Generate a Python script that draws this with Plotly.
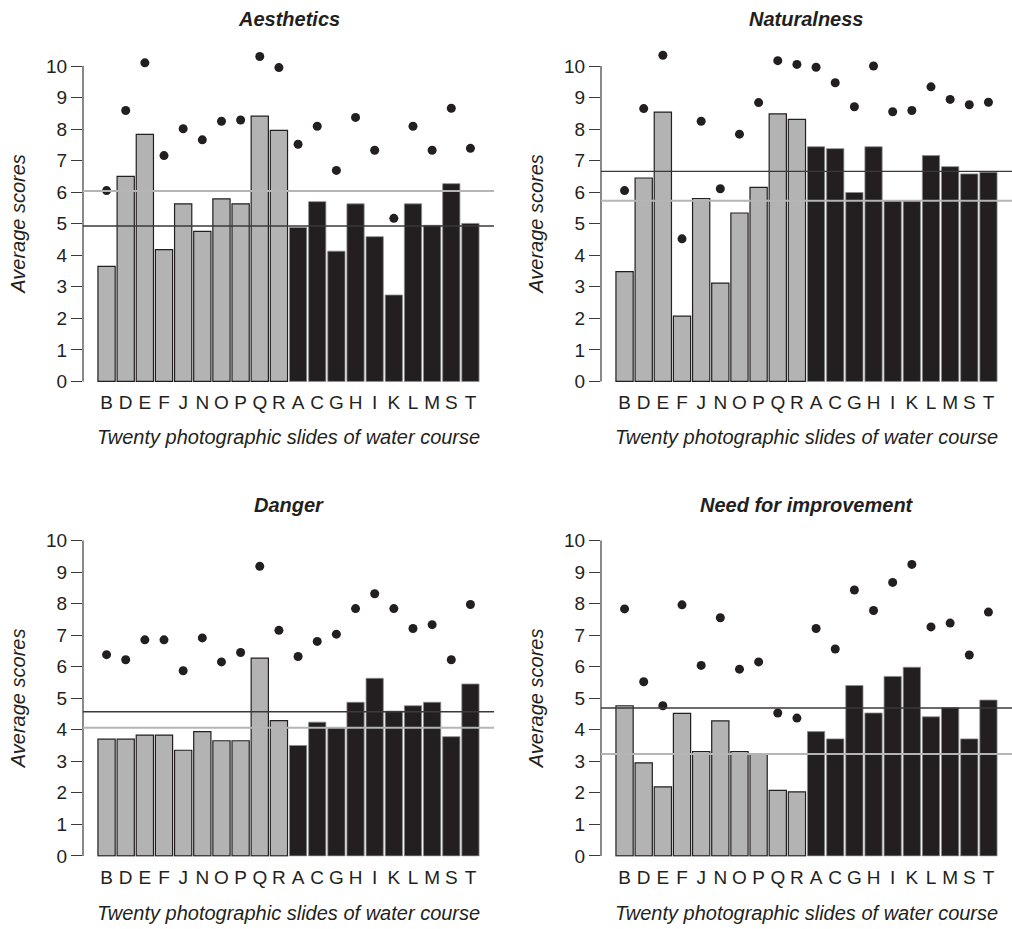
import plotly.graph_objects as go

W, H = 1012, 929

slides = ["B", "D", "E", "F", "J", "N", "O", "P", "Q", "R",
          "A", "C", "G", "H", "I", "K", "L", "M", "S", "T"]
n_gray = 10  # first ten slides drawn in grey, last ten in black

panel_titles = ["Aesthetics", "Naturalness", "Danger", "Need for improvement"]

# bar heights (average scores)
aesthetics_bars = [3.65, 6.50, 7.83, 4.18, 5.63, 4.76, 5.79, 5.63, 8.41, 7.96,
                   4.88, 5.70, 4.13, 5.63, 4.59, 2.74, 5.63, 4.95, 6.27, 5.01]
naturalness_bars = [3.48, 6.45, 8.54, 2.07, 5.80, 3.12, 5.34, 6.15, 8.48, 8.31,
                    7.44, 7.38, 5.99, 7.44, 5.73, 5.73, 7.16, 6.81, 6.58, 6.63]
danger_bars = [3.70, 3.70, 3.83, 3.83, 3.35, 3.94, 3.65, 3.65, 6.27, 4.29,
               3.50, 4.24, 4.07, 4.87, 5.63, 4.59, 4.76, 4.87, 3.78, 5.45]
improvement_bars = [4.76, 2.95, 2.19, 4.52, 3.31, 4.28, 3.31, 3.23, 2.08, 2.03,
                    3.94, 3.71, 5.40, 4.53, 5.69, 5.98, 4.41, 4.70, 3.71, 4.94]

# dot values
aesthetics_dots = [6.05, 8.59, 10.10, 7.16, 8.01, 7.66, 8.25, 8.29, 10.30, 9.95,
                   7.52, 8.09, 6.69, 8.37, 7.33, 5.17, 8.09, 7.33, 8.66, 7.39]
naturalness_dots = [6.05, 8.65, 10.34, 4.52, 8.25, 6.11, 7.84, 8.84, 10.17, 10.05,
                    9.96, 9.47, 8.71, 10.00, 8.55, 8.59, 9.34, 8.94, 8.77, 8.85]
danger_dots = [6.38, 6.22, 6.85, 6.85, 5.87, 6.91, 6.15, 6.45, 9.18, 7.15,
               6.32, 6.80, 7.03, 7.84, 8.31, 7.84, 7.21, 7.33, 6.22, 7.97]
improvement_dots = [7.83, 5.52, 4.76, 7.96, 6.04, 7.55, 5.92, 6.15, 4.53, 4.37,
                    7.21, 6.56, 8.43, 7.78, 8.67, 9.24, 7.26, 7.38, 6.37, 7.73]

# horizontal reference lines (grey group mean, black group mean)
gray_line = [6.04, 5.73, 4.06, 3.23]
black_line = [4.93, 6.66, 4.57, 4.69]

y_ticks = list(range(0, 11))

bars = [aesthetics_bars, naturalness_bars, danger_bars, improvement_bars]
dots = [aesthetics_dots, naturalness_dots, danger_dots, improvement_dots]

GRAY = "#b3b3b3"
DARK = "#231f20"
FONT = "Liberation Sans, Arial, sans-serif"

KY = 1.011  # vertical compensation for the capture


def px(x):
    return x / W


def py(y):
    return 1 - (y * KY) / H


# panel geometry in pixels
x_pix = [(83, 494), (601, 1012), (83, 494), (601, 1012)]
y0_pix = [381.4, 381.4, 855.8, 855.8]
title_y = [19, 19, 505, 505]
xtitle_y = [437, 437, 913, 913]
unit = 31.54
y_min, y_max = -0.03, 10.6

fig = go.Figure()
layout = dict(
    width=W, height=H, margin=dict(l=0, r=0, t=0, b=0),
    paper_bgcolor="white", plot_bgcolor="white", showlegend=False,
    bargap=0.1, font=dict(family=FONT, color=DARK),
)
shapes = []
annotations = []

for i in range(4):
    sfx = "" if i == 0 else str(i + 1)
    xa, ya = "x" + sfx, "y" + sfx
    xl, xr = x_pix[i]
    y0 = y0_pix[i]
    top = y0 - (y_max - 0) * unit
    bot = y0 + (0 - y_min) * unit

    fig.add_trace(go.Bar(
        x=slides[:n_gray], y=bars[i][:n_gray], xaxis=xa, yaxis=ya,
        marker=dict(color=GRAY, line=dict(color=DARK, width=1.2)),
    ))
    fig.add_trace(go.Bar(
        x=slides[n_gray:], y=bars[i][n_gray:], xaxis=xa, yaxis=ya,
        marker=dict(color=DARK, line=dict(color="#8a8a8a", width=0.8)),
    ))
    fig.add_trace(go.Scatter(
        x=slides, y=dots[i], xaxis=xa, yaxis=ya, mode="markers",
        marker=dict(color=DARK, size=9),
    ))

    layout["xaxis" + sfx] = dict(
        domain=[px(xl), px(xr)], anchor=ya, type="category",
        categoryorder="array", categoryarray=slides,
        tickmode="array", tickvals=slides, ticktext=slides,
        range=[-1.23, 20.23], showgrid=False, zeroline=False, showline=False,
        ticks="outside", ticklen=3, tickcolor="rgba(0,0,0,0)",
        tickfont=dict(size=19, color=DARK, family=FONT),
    )
    layout["yaxis" + sfx] = dict(
        domain=[py(bot), py(top)], anchor=xa, range=[y_min, y_max],
        tickmode="array", tickvals=y_ticks, ticktext=[str(t) for t in y_ticks],
        showgrid=False, zeroline=False, showline=False,
        ticks="outside", ticklen=11, tickwidth=1.2, tickcolor="#3a3a3a",
        tickfont=dict(size=19, color=DARK, family=FONT),
    )

    # y axis line from 0 to 10 only
    shapes.append(dict(type="line", xref=xa + " domain", yref=ya,
                       x0=0, x1=0, y0=0, y1=10,
                       line=dict(color="#3a3a3a", width=1.2), layer="above"))
    shapes.append(dict(type="line", xref=xa + " domain", yref=ya,
                       x0=0, x1=1, y0=gray_line[i], y1=gray_line[i],
                       line=dict(color="#b5b5b5", width=2), layer="above"))
    shapes.append(dict(type="line", xref=xa + " domain", yref=ya,
                       x0=0, x1=1, y0=black_line[i], y1=black_line[i],
                       line=dict(color="#3a3a3a", width=1.4), layer="above"))

    cx = (xl + xr) / 2
    annotations.append(dict(
        text="<b><i>" + panel_titles[i] + "</i></b>", xref="paper", yref="paper",
        x=px(cx), y=py(title_y[i]), xanchor="center", yanchor="middle",
        showarrow=False, font=dict(size=20, color=DARK, family=FONT)))
    annotations.append(dict(
        text="<i>Twenty photographic slides of water course</i>",
        xref="paper", yref="paper", x=px(cx), y=py(xtitle_y[i]),
        xanchor="center", yanchor="middle", showarrow=False,
        font=dict(size=20, color=DARK, family=FONT)))
    annotations.append(dict(
        text="<i>Average scores</i>", xref="paper", yref="paper",
        x=px(xl - 65), y=py(y0 - 5 * unit), xanchor="center", yanchor="middle",
        textangle=-90, showarrow=False,
        font=dict(size=20, color=DARK, family=FONT)))

layout["shapes"] = shapes
layout["annotations"] = annotations
fig.update_layout(**layout)

fig.write_html(
    "out.html",
    config={"displayModeBar": False},
    post_script=("document.body.style.margin='0px';"
                 "document.body.style.overflow='hidden';"
                 "document.documentElement.style.overflow='hidden';"),
)
